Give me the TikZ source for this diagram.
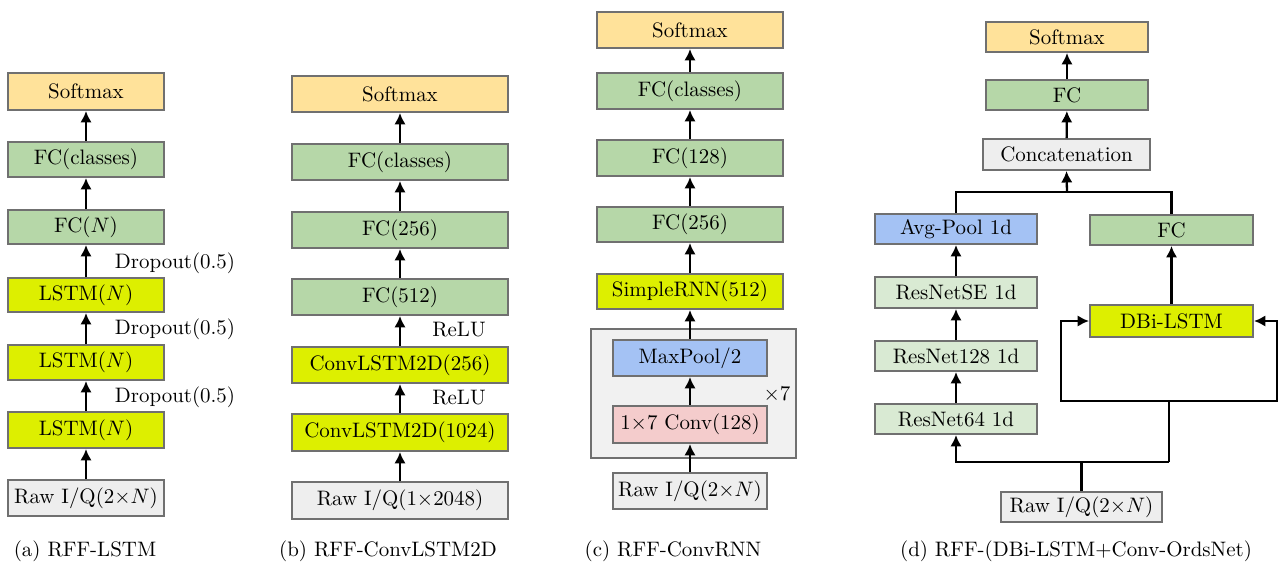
\documentclass[tikz,border=0pt]{standalone}
\usepackage{fontspec}
\usetikzlibrary{arrows.meta}
\definecolor{cSoft}{HTML}{FFE29A}
\definecolor{cFC}{HTML}{B6D7A8}
\definecolor{cLSTM}{HTML}{DDEF00}
\definecolor{cRaw}{HTML}{EEEEEE}
\definecolor{cBlue}{HTML}{A4C2F4}
\definecolor{cPink}{HTML}{F4CCCC}
\definecolor{cRes}{HTML}{D9EAD3}
\definecolor{cBorder}{HTML}{707070}
\definecolor{cCont}{HTML}{F1F1F1}
\tikzset{
  box/.style={draw=cBorder, line width=0.9pt, inner sep=0pt, rectangle},
  softbox/.style={box, fill=cSoft},
  fcbox/.style={box, fill=cFC},
  lstmbox/.style={box, fill=cLSTM},
  rawbox/.style={box, fill=cRaw},
  bluebox/.style={box, fill=cBlue},
  pinkbox/.style={box, fill=cPink},
  resbox/.style={box, fill=cRes},
  contbox/.style={box, fill=cCont},
  arr/.style={-{Latex[length=5.5pt,width=5.5pt]}, line width=1.1pt},
  ln/.style={line width=1.1pt},
  lbl/.style={inner sep=0pt},
}
\newcommand{\bx}[7]{\node[#6, minimum width={(#4-#2)*0.478pt}, minimum height={(#5-#3)*0.478pt}] (#1) at ({(#2+#4)/2},{(#3+#5)/2}) {#7};}
\begin{document}
\begin{tikzpicture}[x=0.478pt,y=-0.478pt]
\useasboundingbox (0,0) rectangle (1278,563);
% ---------- (a)
\bx{aS}{8}{73}{164}{110}{softbox}{Softmax}
\bx{aF2}{8}{142}{164}{177}{fcbox}{FC(classes)}
\bx{aF1}{8}{210}{164}{244}{fcbox}{FC($N$)}
\bx{aL3}{8}{278}{164}{312}{lstmbox}{LSTM($N$)}
\bx{aL2}{8}{345}{164}{380}{lstmbox}{LSTM($N$)}
\bx{aL1}{8}{412}{164}{448}{lstmbox}{LSTM($N$)}
\bx{aR}{8}{480}{164}{516}{rawbox}{Raw I/Q($2{\times}N$)}
\draw[arr] (aR) -- (aL1);
\draw[arr] (aL1) -- (aL2);
\draw[arr] (aL2) -- (aL3);
\draw[arr] (aL3) -- (aF1);
\draw[arr] (aF1) -- (aF2);
\draw[arr] (aF2) -- (aS);
\node[lbl] (ad1) at (175,263) {Dropout(0.5)};
\node[lbl] (ad2) at (175,329) {Dropout(0.5)};
\node[lbl] (ad3) at (175,397) {Dropout(0.5)};
% ---------- (b)
\bx{bS}{292}{76}{508}{112}{softbox}{Softmax}
\bx{bF3}{292}{144}{508}{180}{fcbox}{FC(classes)}
\bx{bF2}{292}{212}{508}{248}{fcbox}{FC(256)}
\bx{bF1}{292}{279}{508}{315}{fcbox}{FC(512)}
\bx{bC2}{292}{347}{508}{383}{lstmbox}{ConvLSTM2D(256)}
\bx{bC1}{292}{414}{508}{451}{lstmbox}{ConvLSTM2D(1024)}
\bx{bR}{292}{482}{508}{519}{rawbox}{Raw I/Q(1$\times$2048)}
\draw[arr] (bR) -- (bC1);
\draw[arr] (bC1) -- (bC2);
\draw[arr] (bC2) -- (bF1);
\draw[arr] (bF1) -- (bF2);
\draw[arr] (bF2) -- (bF3);
\draw[arr] (bF3) -- (bS);
\node[lbl] (br1) at (459,330) {ReLU};
\node[lbl] (br2) at (459,398) {ReLU};
% ---------- (c)
\bx{cCt}{591}{329}{796}{458}{contbox}{}
\bx{cS}{597}{12}{783}{48}{softbox}{Softmax}
\bx{cF3}{597}{73}{783}{109}{fcbox}{FC(classes)}
\bx{cF2}{597}{140}{783}{176}{fcbox}{FC(128)}
\bx{cF1}{597}{207}{783}{242}{fcbox}{FC(256)}
\bx{cRN}{597}{274}{783}{309}{lstmbox}{SimpleRNN(512)}
\bx{cMP}{613}{340}{767}{376}{bluebox}{MaxPool/2}
\bx{cCv}{613}{406}{767}{443}{pinkbox}{1$\times$7 Conv(128)}
\bx{cR}{613}{473}{767}{509}{rawbox}{Raw I/Q($2{\times}N$)}
\node[lbl] (cx) at (777,394) {$\times$7};
\draw[arr] (cR) -- (cCv);
\draw[arr] (cCv) -- (cMP);
\draw[arr] (cMP) -- (cRN);
\draw[arr] (cRN) -- (cF1);
\draw[arr] (cF1) -- (cF2);
\draw[arr] (cF2) -- (cF3);
\draw[arr] (cF3) -- (cS);
% ---------- (d)
\bx{dS}{986}{22}{1148}{52}{softbox}{Softmax}
\bx{dF}{986}{80}{1148}{110}{fcbox}{FC}
\bx{dC}{983}{139}{1150}{170}{rawbox}{Concatenation}
\bx{dA}{875}{214}{1037}{244}{bluebox}{Avg-Pool 1d}
\bx{dF2}{1090}{215}{1253}{245}{fcbox}{FC}
\bx{dSE}{875}{277}{1037}{308}{resbox}{ResNetSE 1d}
\bx{d128}{875}{341}{1037}{371}{resbox}{ResNet128 1d}
\bx{d64}{875}{404}{1037}{434}{resbox}{ResNet64 1d}
\bx{dL}{1090}{305}{1253}{337}{lstmbox}{DBi-LSTM}
\bx{dR}{1001}{492}{1162}{522}{rawbox}{Raw I/Q($2{\times}N$)}
\coordinate (j1) at (1169,462);
\coordinate (j2) at (1169,401);
\coordinate (jl) at (1061,401);
\coordinate (jr) at (1277,401);
\coordinate (j3) at (1067,192);
\draw[ln] (dR.north) -- (dR.north |- j1);
\draw[arr] (j1) -| (d64.south);
\draw[ln] (j1) -- (j2);
\draw[arr] (j2) -- (jl) |- (dL.west);
\draw[arr] (j2) -- (jr) |- (dL.east);
\draw[arr] (dL) -- (dF2);
\draw[arr] (d64) -- (d128);
\draw[arr] (d128) -- (dSE);
\draw[arr] (dSE) -- (dA);
\draw[ln] (dA.north) -- (dA.north |- j3) -- (dF2.north |- j3) -- (dF2.north);
\draw[arr] (j3) -- (dC.south);
\draw[arr] (dC) -- (dF);
\draw[arr] (dF) -- (dS);
% ---------- captions
\node[lbl] (capa) at (85,551) {(a) RFF-LSTM};
\node[lbl] (capb) at (388,551) {(b) RFF-ConvLSTM2D};
\node[lbl] (capc) at (673,551) {(c) RFF-ConvRNN};
\node[lbl] (capd) at (1076,551) {(d) RFF-(DBi-LSTM+Conv-OrdsNet)};
\end{tikzpicture}
\end{document}
